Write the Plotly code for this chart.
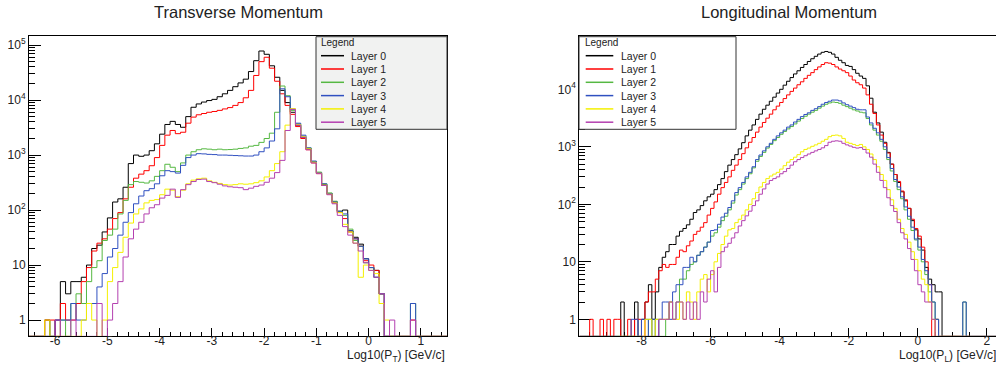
import plotly.graph_objects as go

# ---------------- data (counts per bin) ----------------
LAYER_NAMES = ["Layer 0", "Layer 1", "Layer 2", "Layer 3", "Layer 4", "Layer 5"]
LAYER_COLORS = ["#000000", "#ff0000", "#55b842", "#3050c0", "#f4f000", "#b440b0"]

# Transverse momentum: log10(PT) bins from -6.5, width 0.1
PT_BIN_START = -6.5
PT_BIN_WIDTH = 0.1
PT_L0 = [0, 0, 0, 1, 0, 1, 5, 3, 5, 5,
         6, 10, 20, 23, 40, 72, 140, 160, 260, 700,
         1000, 950, 1000, 1200, 1600, 2400, 3600, 4100, 3600, 3200,
         5000, 7400, 8500, 9200, 9800, 10300, 11500, 13000, 15000, 17500,
         20500, 24000, 33000, 52000, 78000, 68000, 42000, 26000, 15000, 9000,
         6000, 3500, 2100, 1300, 750, 470, 290, 200, 140, 95,
         100, 42, 32, 24, 13, 9, 8, 3, 0, 0,
         0, 0, 0, 0, 0, 0, 0, 0, 0, 0]
PT_L1 = [0, 0, 0, 1, 1, 0, 2, 1, 1, 2,
         5, 9, 18, 25, 30, 45, 70, 90, 160, 260,
         380, 450, 520, 640, 900, 1500, 2300, 2800, 2450, 2600,
         3800, 4900, 5400, 5700, 6000, 6200, 6500, 6900, 7300, 8000,
         9000, 11000, 15000, 28000, 50000, 60000, 38000, 22000, 13000, 8000,
         5500, 3300, 2000, 1250, 720, 460, 280, 195, 135, 90,
         70, 40, 30, 22, 12, 10, 8, 3, 0, 0,
         0, 0, 0, 1, 0, 0, 0, 0, 0, 0]
PT_L2 = [0, 0, 0, 0, 0, 0, 1, 0, 2, 3,
         2, 5, 9, 12, 28, 35, 45, 85, 150, 290,
         330, 320, 310, 340, 410, 520, 680, 600, 500, 720,
         1000, 1150, 1250, 1300, 1280, 1250, 1280, 1250, 1260, 1280,
         1320, 1350, 1450, 1500, 1700, 2000, 2500, 6000, 18000, 12000,
         6500, 3700, 2200, 1350, 760, 490, 300, 205, 145, 95,
         80, 45, 28, 22, 11, 9, 6, 3, 0, 0,
         0, 0, 0, 2, 0, 0, 0, 0, 0, 0]
PT_L3 = [0, 0, 0, 0, 0, 1, 1, 1, 2, 1,
         1, 2, 2, 4, 7, 14, 20, 35, 60, 90,
         130, 180, 225, 245, 300, 420, 520, 500, 470, 650,
         900, 1000, 1060, 1050, 1030, 1020, 1000, 1000, 990, 980,
         970, 960, 960, 1000, 1150, 1350, 1800, 3000, 16000, 11500,
         6800, 3800, 2300, 1350, 780, 480, 300, 200, 140, 95,
         85, 42, 30, 22, 13, 9, 6, 3, 0, 0,
         0, 0, 0, 2, 0, 0, 0, 0, 0, 0]
PT_L4 = [0, 0, 0, 1, 0, 0, 0, 0, 0, 0,
         1, 2, 1, 0, 1, 5, 9, 17, 32, 58,
         85, 105, 135, 150, 155, 190, 240, 230, 175, 230,
         300, 350, 370, 380, 340, 320, 305, 290, 285, 290,
         300, 295, 300, 315, 340, 400, 520, 700, 1150, 3500,
         7000, 3600, 2150, 1300, 740, 470, 285, 195, 135, 90,
         55, 40, 25, 6, 10, 8, 7, 2, 1, 0,
         0, 0, 0, 0, 0, 0, 0, 0, 0, 0]
PT_L5 = [0, 0, 0, 0, 0, 1, 0, 0, 1, 0,
         0, 0, 0, 2, 0, 1, 2, 5, 14, 30,
         45, 60, 85, 110, 125, 165, 185, 240, 170, 235,
         290, 330, 360, 365, 330, 315, 295, 275, 265, 260,
         255, 235, 250, 270, 285, 320, 380, 480, 800, 2800,
         6800, 3500, 2100, 1250, 720, 460, 280, 190, 130, 80,
         50, 35, 25, 18, 11, 8, 6, 3, 0, 1,
         0, 0, 0, 1, 0, 0, 0, 0, 0, 0]

# Longitudinal momentum: log10(PL) bins from -9.8, width 0.1 (None = outside histogram range)
PL_BIN_START = -9.8
PL_BIN_WIDTH = 0.1
PL_L0 = [0, 0, 0, 0, 0, 0, 0, 0, 0, 0,
         0, 0, 2, 0, 0, 0, 2, 0, 1, 2,
         4, 1, 3, 8, 12, 15, 20, 20, 28, 34,
         38, 44, 55, 72, 80, 95, 115, 135, 150, 180,
         220, 280, 370, 480, 600, 730, 920, 1180, 1550, 1950,
         2400, 3000, 3700, 4500, 5300, 6200, 7300, 8600, 10000, 11800,
         13800, 16000, 18500, 21000, 24000, 27000, 30500, 34000, 37500, 41000,
         44000, 45500, 44000, 41000, 36000, 32000, 29000, 26000, 25000, 22000,
         19000, 17000, 15500, 11500, 7000, 4000, 2600, 1800, 1200, 800,
         500, 330, 240, 165, 115, 85, 52, 36, 25, 16,
         8, 5, 4, 3, 3, 0, 0, 0, 0, 0,
         0, 0, 0, 0, 0, 0, 0, 0, 0, 0,
         0, 0]
PL_L1 = [0, 0, 0, 1, 0, 0, 1, 0, 1, 0,
         1, 1, 0, 0, 1, 0, 1, 1, 0, 2,
         3, 3, 5, 7, 9, 8, 9, 9, 12, 16,
         15, 19, 23, 30, 34, 40, 48, 65, 85, 110,
         150, 195, 240, 300, 390, 480, 600, 760, 960, 1200,
         1450, 1800, 2200, 2650, 3150, 3700, 4400, 5100, 5900, 6900,
         8000, 9200, 10500, 12000, 13500, 15500, 17500, 19500, 22000, 24500,
         27000, 29000, 28500, 27000, 24500, 22500, 21000, 19500, 17000, 14500,
         13000, 12000, 10500, 8000, 5500, 3800, 2400, 1600, 1150, 780,
         500, 330, 250, 170, 120, 85, 55, 38, 28, 18,
         10, 4, 0, 1, 0, 0, 0, 0, 0, 0,
         0, 0, 0, 0, 0, 0, 0, 0, 0, 0,
         0, 0]
PL_L2 = [0, 0, 0, 0, 0, 0, 0, 0, 0, 0,
         0, 0, 0, 0, 0, 0, 0, 0, 0, 0,
         1, 0, 1, 0, 0, 1, 2, 1, 2, 5,
         5, 7, 9, 10, 13, 15, 18, 22, 28, 32,
         40, 52, 62, 80, 105, 145, 180, 225, 280, 340,
         430, 560, 680, 800, 950, 1100, 1280, 1450, 1650, 1850,
         2050, 2250, 2500, 2800, 3100, 3400, 3700, 4000, 4300, 4700,
         5100, 5500, 5800, 6000, 5900, 5700, 5300, 5000, 4700, 4400,
         4200, 4000, 3900, 3100, 2400, 1950, 1600, 1250, 900, 600,
         380, 250, 180, 125, 80, 55, 35, 24, 16, 10,
         6, 3, 2, 1, 0, 0, 0, 0, 0, 0,
         0, 2, 0, 0, 0, 0, 0, 0, 0, 0,
         0, 0]
PL_L3 = [0, 0, 0, 0, 0, 0, 0, 0, 0, 0,
         0, 0, 0, 0, 0, 1, 1, 0, 1, 1,
         0, 1, 0, 1, 2, 2, 1, 3, 4, 4,
         8, 8, 12, 10, 13, 15, 18, 22, 35, 36,
         45, 60, 70, 88, 115, 160, 195, 240, 300, 360,
         450, 600, 720, 850, 1000, 1150, 1350, 1550, 1750, 1950,
         2200, 2400, 2700, 3000, 3350, 3650, 3900, 4300, 4600, 5000,
         5500, 5900, 6200, 6500, 6500, 6300, 5800, 5400, 5100, 4800,
         4500, 4400, 4400, 3300, 2600, 2100, 1750, 1350, 1000, 650,
         420, 270, 200, 135, 90, 62, 40, 25, 18, 11,
         7, 4, 2, 1, 0, 0, 0, 0, 0, 0,
         0, 2, 0, 0, 0, 0, 0, 0, 0, 0,
         0, 0]
PL_L4 = [None, None, None, None, None, None, None, None, None, None,
         None, 0, 0, 0, 0, 0, 0, 0, 0, 1,
         1, 0, 1, 1, 1, 1, 2, 1, 1, 2,
         1, 3, 2, 1, 3, 5, 6, 3, 6, 10,
         14, 20, 28, 36, 38, 48, 55, 65, 80, 100,
         125, 160, 200, 240, 280, 310, 335, 360, 410, 470,
         540, 600, 660, 730, 820, 900, 950, 1020, 1080, 1150,
         1250, 1350, 1500, 1580, 1600, 1550, 1400, 1200, 1150, 1100,
         1050, 1100, 1000, 900, 750, 600, 450, 330, 260, 180,
         120, 85, 55, 38, 30, 22, 15, 11, 7, 5,
         4, 2, 1, 0, 0, 0, 0, 0, 0, 0,
         0, 0, 0]
PL_L5 = [None, None, None, None, None, None, None, None, None, None,
         None, None, None, None, None, None, 0, 0, 0, 0,
         0, 0, 0, 1, 1, 1, 2, 1, 2, 2,
         1, 2, 1, 2, 1, 3, 2, 5, 7, 3,
         8, 15, 18, 21, 26, 32, 42, 52, 63, 76,
         95, 115, 150, 185, 225, 260, 280, 300, 340, 370,
         420, 480, 550, 600, 650, 700, 750, 800, 850, 900,
         960, 1050, 1200, 1250, 1270, 1250, 1150, 1080, 1030, 980,
         950, 970, 900, 780, 660, 500, 360, 260, 195, 130,
         95, 75, 48, 32, 25, 17, 11, 7, 4, 3,
         2, 2, 1, 0, 0, 0, 0, 0, 0, 0,
         0, 0, 0]

PT_SERIES = [PT_L0, PT_L1, PT_L2, PT_L3, PT_L4, PT_L5]
PL_SERIES = [PL_L0, PL_L1, PL_L2, PL_L3, PL_L4, PL_L5]

PT_XTICKS = [-6, -5, -4, -3, -2, -1, 0, 1]
PL_XTICKS = [-8, -6, -4, -2, 0, 2]
PT_YTICKS = [1, 10, 100, 1000, 10000, 100000]
PT_YTICKTEXT = ["1", "10", "10<sup>2</sup>", "10<sup>3</sup>", "10<sup>4</sup>", "10<sup>5</sup>"]
PL_YTICKS = [1, 10, 100, 1000, 10000]
PL_YTICKTEXT = ["1", "10", "10<sup>2</sup>", "10<sup>3</sup>", "10<sup>4</sup>"]

TITLE_PT = "Transverse Momentum"
TITLE_PL = "Longitudinal Momentum"
XTITLE_PT = "Log10(P<sub>T</sub>) [GeV/c]"
XTITLE_PL = "Log10(P<sub>L</sub>) [GeV/c]"

# ---------------- helpers ----------------
W, H = 996, 369
FONT = "Liberation Sans, Arial, Helvetica, sans-serif"
EMPTY_FLOOR = 0.505   # empty bins drawn on the bottom of the frame (log axis)


def px(x):
    """window pixel x -> paper coordinate"""
    return x / W


def py(y):
    """window pixel y -> paper coordinate"""
    return 1 - y / H


def step_xy(start, width, vals):
    xs = [start + width * i for i in range(len(vals) + 1)]
    ys = [None if v is None else max(v, EMPTY_FLOOR) for v in vals]
    ys = ys + [ys[-1]]
    return xs, ys


fig = go.Figure()

for k in range(6):
    x, y = step_xy(PT_BIN_START, PT_BIN_WIDTH, PT_SERIES[k])
    fig.add_trace(go.Scatter(x=x, y=y, mode="lines", name=LAYER_NAMES[k],
                             line=dict(color=LAYER_COLORS[k], width=1, shape="hv"),
                             xaxis="x", yaxis="y", showlegend=False, hoverinfo="skip"))
for k in range(6):
    x, y = step_xy(PL_BIN_START, PL_BIN_WIDTH, PL_SERIES[k])
    fig.add_trace(go.Scatter(x=x, y=y, mode="lines", name=LAYER_NAMES[k],
                             line=dict(color=LAYER_COLORS[k], width=1, shape="hv"),
                             xaxis="x2", yaxis="y2", showlegend=False, hoverinfo="skip"))

ydom = [py(336), py(36)]
tickfont = dict(family=FONT, size=12, color="#222222")


def xaxis_cfg(dom, rng, ticks, minor_dtick, anchor):
    return dict(domain=dom, range=rng, anchor=anchor, showgrid=False, zeroline=False,
                showline=True, linecolor="black", linewidth=1, mirror=True,
                ticks="inside", ticklen=8, tickwidth=1, tickcolor="black",
                tickmode="array", tickvals=ticks, ticktext=[str(t) for t in ticks],
                ticklabelstandoff=-6,
                minor=dict(ticks="inside", ticklen=4, tickwidth=1, tickcolor="black",
                           tick0=0, dtick=minor_dtick, showgrid=False),
                tickfont=tickfont, layer="below traces")


def yaxis_cfg(rng, vals, text, anchor):
    minor_vals = [m * d for d in vals for m in range(2, 10)]
    return dict(domain=ydom, type="log", range=rng, anchor=anchor, showgrid=False,
                zeroline=False, showline=True, linecolor="black", linewidth=1, mirror=True,
                ticks="inside", ticklen=12, tickwidth=1, tickcolor="black",
                tickmode="array", tickvals=vals, ticktext=text,
                minor=dict(ticks="inside", ticklen=6, tickwidth=1, tickcolor="black",
                           tickmode="array", tickvals=minor_vals, showgrid=False),
                tickfont=tickfont, layer="below traces")


fig.update_layout(
    width=W, height=H, margin=dict(l=0, r=0, t=0, b=0),
    paper_bgcolor="white", plot_bgcolor="white", showlegend=False,
    font=dict(family=FONT, color="#222222"),
    xaxis=xaxis_cfg([px(29), px(447)], [-6.5, 1.5], PT_XTICKS, 0.2, "y"),
    yaxis=yaxis_cfg([-0.29, 5.165], PT_YTICKS, PT_YTICKTEXT, "x"),
    xaxis2=xaxis_cfg([px(579.3), 1.0], [-9.8, 2.262], PL_XTICKS, 0.5, "y2"),
    yaxis2=yaxis_cfg([-0.29, 4.927], PL_YTICKS, PL_YTICKTEXT, "x2"),
)

ann = []
shapes = []
ann.append(dict(text=TITLE_PT, x=px(238), y=py(11.5), xref="paper", yref="paper",
                showarrow=False, xanchor="center", yanchor="middle",
                font=dict(family=FONT, size=16.5, color="#222222")))
ann.append(dict(text=TITLE_PL, x=px(789), y=py(11.5), xref="paper", yref="paper",
                showarrow=False, xanchor="center", yanchor="middle",
                font=dict(family=FONT, size=16.5, color="#222222")))
ann.append(dict(text=XTITLE_PT, x=px(447), y=py(356), xref="paper", yref="paper",
                showarrow=False, xanchor="right", yanchor="middle",
                font=dict(family=FONT, size=12, color="#222222")))
ann.append(dict(text=XTITLE_PL, x=px(998), y=py(356), xref="paper", yref="paper",
                showarrow=False, xanchor="right", yanchor="middle",
                font=dict(family=FONT, size=12, color="#222222")))


def legend(x0, x1, fill, line_x0, line_x1, text_x, title_x):
    y0, y1 = 36.7, 129.3
    shapes.append(dict(type="rect", xref="paper", yref="paper",
                       x0=px(x0), x1=px(x1), y0=py(y1), y1=py(y0),
                       fillcolor=fill, line=dict(color="#333333", width=1), layer="above"))
    ann.append(dict(text="Legend", x=px(title_x), y=py(43), xref="paper", yref="paper",
                    showarrow=False, xanchor="left", yanchor="middle",
                    font=dict(family=FONT, size=10, color="#222222")))
    for k in range(6):
        yy = 55.7 + 13.3 * k
        shapes.append(dict(type="line", xref="paper", yref="paper",
                           x0=px(line_x0), x1=px(line_x1), y0=py(yy), y1=py(yy),
                           line=dict(color=LAYER_COLORS[k], width=1.5), layer="above"))
        ann.append(dict(text=LAYER_NAMES[k], x=px(text_x), y=py(yy), xref="paper", yref="paper",
                        showarrow=False, xanchor="left", yanchor="middle",
                        font=dict(family=FONT, size=10.5, color="#222222")))


legend(316, 447, "#f1f2f1", 321, 344, 348.5, 318.5)
legend(579, 736, "white", 585.7, 613.3, 619, 582.5)

fig.update_layout(annotations=ann, shapes=shapes)
# remove the browser's default 8px body margin so the figure fills the window exactly
fig.write_html("out.html",
               config={"displayModeBar": False, "staticPlot": True},
               post_script="document.body.style.margin='0';document.body.style.overflow='hidden';")
